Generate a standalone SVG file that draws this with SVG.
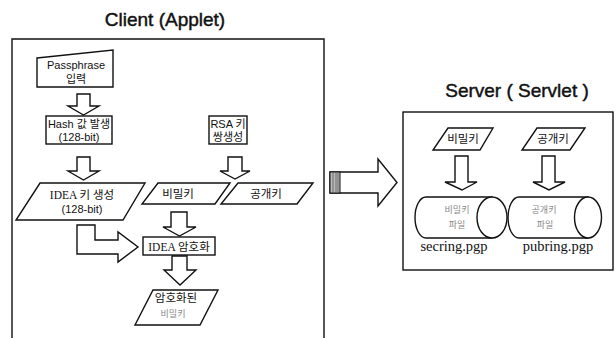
<svg xmlns="http://www.w3.org/2000/svg" width="616" height="338" viewBox="0 0 616 338">
<style>
.sh{fill:#fff;stroke:#111;stroke-width:1.4;stroke-linejoin:miter}
.ar{fill:#fff;stroke:#111;stroke-width:1.4;stroke-linejoin:miter}
.fr{fill:none;stroke:#111;stroke-width:1.4}
.t{font-family:"Liberation Sans","Noto Sans CJK KR",sans-serif;font-size:11px;fill:#111;text-anchor:middle}
.k{font-family:"Liberation Serif","Noto Sans CJK KR",serif;font-size:11.5px;fill:#111;text-anchor:middle}
.f{font-family:"Noto Sans CJK KR",sans-serif;font-size:9px;fill:#888;text-anchor:middle}
.ti{font-family:"Liberation Sans",sans-serif;font-size:19px;fill:#111;stroke:#111;stroke-width:0.45;text-anchor:middle}
.s{font-family:"Liberation Serif",serif;font-size:14.5px;fill:#111;text-anchor:middle}
</style>
<rect width="616" height="338" fill="#fff"/>
<g id="client-frame">
<text class="ti" x="165" y="26">Client (Applet)</text>
<path class="fr" d="M12,338 L12,39 L324,39 L324,338"/>
</g>
<g id="passphrase">
<polygon class="sh" points="37,58 113,50 113,87 37,87"/>
<text class="t" x="76" y="69">Passphrase</text>
<text class="t" x="76" y="83">입력</text>
</g>
<g id="hash">
<rect class="sh" x="46" y="116" width="66" height="28"/>
<text class="t" x="79" y="128" font-size="10.5">Hash 값 발생</text>
<text class="t" x="79" y="141" font-size="10.5">(128-bit)</text>
</g>
<g id="rsa">
<rect class="sh" x="209" y="116" width="38" height="28"/>
<text class="t" x="228" y="128" font-size="10.5">RSA 키</text>
<text class="t" x="228" y="141" font-size="10.5">쌍생성</text>
</g>
<g id="idea-key">
<polygon class="sh" points="40,183 145,183 123,220 16,220"/>
<text class="k" x="82" y="199">IDEA 키 생성</text>
<text class="t" x="82" y="213">(128-bit)</text>
</g>
<g id="client-secret">
<polygon class="sh" points="158,183 230,183 215,204 142,204"/>
<text class="k" x="178" y="198">비밀키</text>
</g>
<g id="client-public">
<polygon class="sh" points="238,183 313,183 297,204 221,204"/>
<text class="k" x="266" y="198" fill="#444">공개키</text>
</g>
<g id="idea-encrypt">
<rect class="sh" x="143" y="237" width="72" height="18"/>
<text class="k" x="179" y="250.5">IDEA 암호화</text>
</g>
<g id="encrypted-secret">
<polygon class="sh" points="153,290 218,290 200,325 135,325"/>
<text class="k" x="176" y="302" font-size="12">암호화된</text>
<text class="f" x="173" y="317" font-size="10">비밀키</text>
</g>
<g id="server-frame">
<text class="ti" x="517" y="97">Server ( Servlet )</text>
<rect class="fr" x="403" y="112" width="210" height="158"/>
</g>
<g id="server-secret">
<polygon class="sh" points="448,128 493,128 480,150 433,150"/>
<text class="k" x="463" y="143">비밀키</text>
</g>
<g id="server-public">
<polygon class="sh" points="537,128 585,128 570,150 522,150"/>
<text class="k" x="553" y="143">공개키</text>
</g>
<g id="secring">
<path class="sh" d="M426,197 L492,197 L492,238 L426,238 A11,20.5 0 0 1 426,197 Z"/>
<ellipse class="sh" cx="492" cy="217.5" rx="15" ry="20.5"/>
<text class="f" x="457" y="213">비밀키</text>
<text class="f" x="457" y="228">파일</text>
<text class="s" x="454" y="251">secring.pgp</text>
</g>
<g id="pubring">
<path class="sh" d="M519,197 L588,197 L588,238 L519,238 A11,20.5 0 0 1 519,197 Z"/>
<ellipse class="sh" cx="588" cy="217.5" rx="13.5" ry="20.5"/>
<text class="f" x="544" y="213">공개키</text>
<text class="f" x="545" y="228">파일</text>
<text class="s" x="558" y="251">pubring.pgp</text>
</g>
<g id="connectors">
<polygon class="ar" points="77,94 90,94 90,106 99,106 83.5,115 68,106 77,106"/>
<polygon class="ar" points="77,157 90,157 90,171 99,171 83.5,180 68,171 77,171"/>
<polygon class="ar" points="228,157 242,157 242,171 250,171 235,179 220,171 228,171"/>
<polygon class="ar" points="171,212 187,212 187,227 196,227 179.5,236 163,227 171,227"/>
<polygon class="ar" points="172,256 187,256 187,270 196,270 180,285 164,270 172,270"/>
<polygon class="ar" points="77,225 95,225 95,240 118,240 118,232 138,247 118,262 118,254 77,254"/>
<polygon class="ar" points="330,172 378,172 378,159 397,182.5 378,206 378,193 330,193"/>
<rect x="330" y="172" width="10" height="21" fill="#bbb" stroke="#111" stroke-width="1"/>
<path d="M333,172 V193 M336,172 V193 M338,172 V193" stroke="#555" stroke-width="0.8"/>
<polygon class="ar" points="455,156 468,156 468,182 477,182 462,190 445,182 455,182"/>
<polygon class="ar" points="542,156 555,156 555,182 565,182 549,190 533,182 542,182"/>
</g>
</svg>
